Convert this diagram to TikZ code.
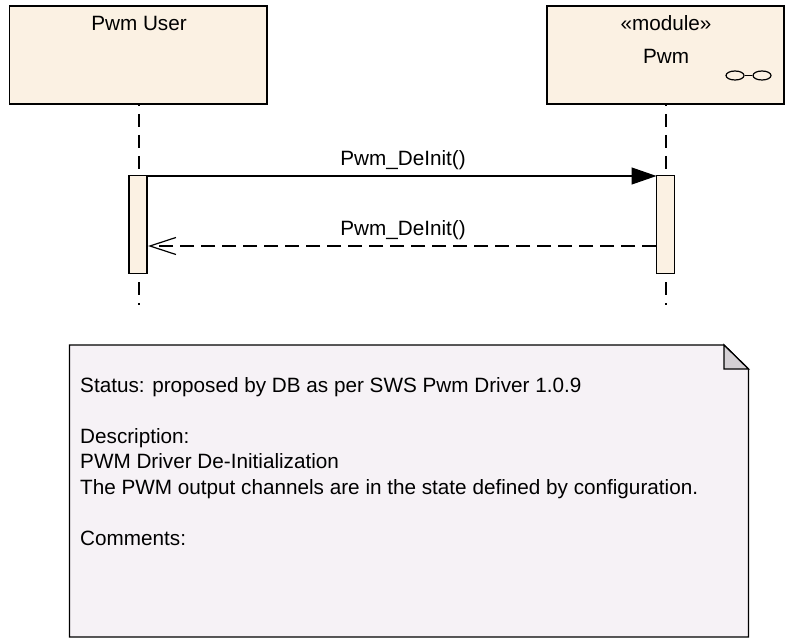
\documentclass[tikz,border=0pt]{standalone}
\usepackage{fontspec}
\setmainfont{Liberation Sans}
\usetikzlibrary{arrows.meta,shapes.geometric}
\definecolor{boxfill}{HTML}{FBF1E3}
\definecolor{notefill}{HTML}{F6F2F6}
\definecolor{foldfill}{HTML}{D4D0D4}
\tikzset{
    actorbox/.style={draw,fill=boxfill,line width=1.3pt,minimum height=98pt,inner sep=0pt},
    actbar/.style={draw,fill=boxfill,line width=1.3pt,minimum width=18pt,minimum height=98pt,inner sep=0pt},
    lifeline/.style={line width=1.3pt,dash pattern=on 13pt off 8pt},
    msglabel/.style={font=\fontsize{20.7}{25}\selectfont,inner sep=0pt},
    iconring/.style={draw,ellipse,line width=1.2pt,minimum width=18pt,minimum height=9pt,inner sep=0pt},
}
\begin{document}
\begin{tikzpicture}[x=1pt,y=-1pt]
    \useasboundingbox(0,0)rectangle(787,639);
    % lifelines first, bars go on top
    \node[actorbox,minimum width=257.5pt](user)at(138.3,55){};
    \node[actorbox,minimum width=237pt](pwm)at(665.5,55){};
    \coordinate(userend)at(139,305);
    \coordinate(pwmend)at(666,305);
    \coordinate(usertop)at(139,176);
    \coordinate(pwmtop)at(666,176);
    \coordinate(userlow)at(139,274);
    \coordinate(pwmlow)at(666,274);
    \coordinate(userhead)at(139,104);
    \coordinate(pwmhead)at(666,104);
    \draw[lifeline,dash phase=11pt](userhead)--(usertop);
    \draw[lifeline,dash phase=11pt](pwmhead)--(pwmtop);
    \draw[lifeline,dash phase=13pt](userlow)--(userend);
    \draw[lifeline,dash phase=13pt](pwmlow)--(pwmend);
    \node[actbar](userbar)at(138,224.7){};
    \node[actbar](pwmbar)at(665.5,224.7){};
    \node[msglabel](usertext)at(139,23.5){Pwm User};
    \node[msglabel](stereo)at(666,23.5){«module»};
    \node[msglabel](pwmtext)at(666,56){Pwm};
    % little component icon
    \node[iconring](iconl)at(735,75.5){};
    \node[iconring](iconr)at(762,75.5){};
    \draw[line width=1.2pt](iconl)--(iconr);
    % messages
    \coordinate(callstart)at(147,176);
    \coordinate(callend)at(656.5,176);
    \coordinate(backstart)at(656,246);
    \coordinate(backend)at(148,246);
    \draw[line width=1.3pt,-{Triangle[length=25pt,width=17pt]}](callstart)--(callend);
    \draw[line width=1.3pt,dash pattern=on 14pt off 7pt,-{Straight Barb[length=26pt,width=17pt,line width=1.2pt]}](backstart)--(backend);
    \node[msglabel](calltext)at(403,160){Pwm\_DeInit()};
    \node[msglabel](backtext)at(403,230){Pwm\_DeInit()};
    % note with folded corner
    \coordinate(nw)at(69.5,345);
    \coordinate(foldtop)at(724,345);
    \coordinate(foldright)at(748.5,369);
    \coordinate(foldin)at(724,369);
    \coordinate(se)at(748.5,637);
    \coordinate(sw)at(69.5,637);
    \draw[line width=1.3pt,fill=notefill](nw)--(foldtop)--(foldright)--(se)--(sw)--cycle;
    \draw[line width=1.3pt,fill=foldfill](foldtop)--(foldright)--(foldin)--cycle;
    \node[font=\fontsize{20.7}{25.5}\selectfont,align=left,anchor=north west,inner sep=0pt](notetext)at(80,377){Status: proposed by DB as per SWS Pwm Driver 1.0.9\\[25.5pt]Description:\\PWM Driver De-Initialization\\The PWM output channels are in the state defined by configuration.\\[25.5pt]Comments:};
\end{tikzpicture}
\end{document}
